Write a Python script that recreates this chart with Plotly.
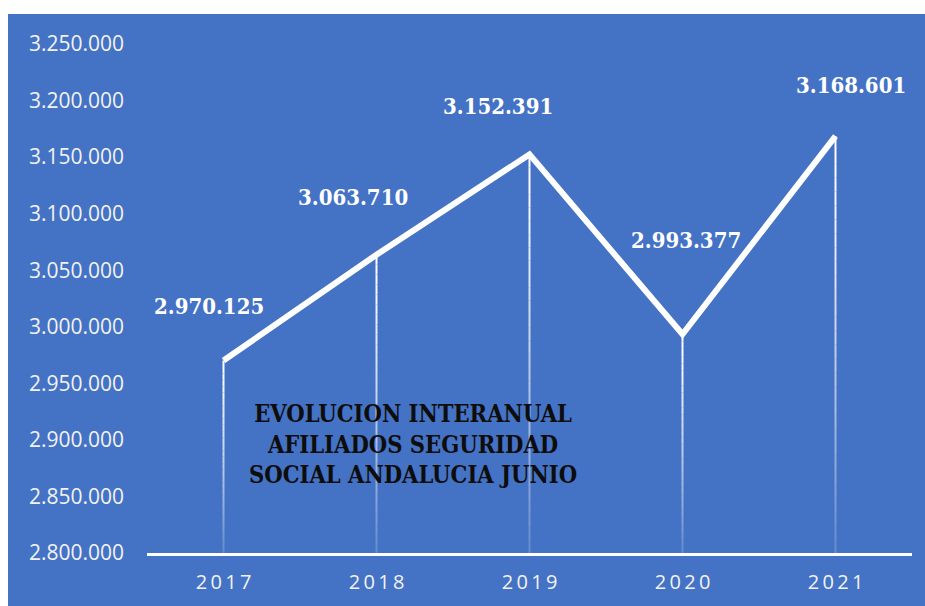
import plotly.graph_objects as go

# ---- data ----
years = ["2017", "2018", "2019", "2020", "2021"]
afiliados = [2970125, 3063710, 3152391, 2993377, 3168601]
y_tick_values = [2800000, 2850000, 2900000, 2950000, 3000000,
                 3050000, 3100000, 3150000, 3200000, 3250000]
title_lines = ["EVOLUCION INTERANUAL", "AFILIADOS SEGURIDAD", "SOCIAL ANDALUCIA JUNIO"]

# ---- style ----
BLUE = "#4472C4"
label_shift = [(-15, 55), (-24, 58), (-32, 48), (3, 94), (15, 51)]  # pixel offsets of value labels
y_min, y_max = 2800000, 3250000

W, H = 925, 606
ML, MR, MT, MB = 147, 13, 44, 53
pw, ph = W - ML - MR, H - MT - MB


def fmt(v):
    return f"{v:,}".replace(",", ".")


def spaced(s):
    return "\u2009".join(s)


fig = go.Figure()

fig.add_trace(go.Scatter(
    x=list(range(len(years))), y=afiliados, mode="lines",
    line=dict(color="white", width=6),
    hoverinfo="skip", showlegend=False,
))

shapes = [dict(
    type="rect", xref="paper", yref="paper",
    x0=(8 - ML) / pw, x1=(W + 20 - ML) / pw,
    y0=-(MB + 20) / ph, y1=(MT + ph - 14) / ph,
    fillcolor=BLUE, line=dict(width=0), layer="below",
)]

# fading drop lines
N = 30
for i, v in enumerate(afiliados):
    for k in range(N):
        y_top = v - (v - y_min) * k / N
        y_bot = v - (v - y_min) * (k + 1) / N
        op = 1 - 0.85 * (k / N) ** 1.3
        shapes.append(dict(
            type="line", xref="x", yref="y", x0=i, x1=i, y0=y_top, y1=y_bot,
            line=dict(color="white", width=2), opacity=op, layer="below",
        ))

annotations = []
for i, v in enumerate(afiliados):
    dx, dy = label_shift[i]
    annotations.append(dict(
        x=i, y=v, xref="x", yref="y", text=fmt(v), showarrow=False,
        xshift=dx, yshift=dy, xanchor="center", yanchor="middle",
        font=dict(family="DejaVu Serif Condensed, Liberation Serif", size=22,
                  color="white", weight="bold"),
    ))

annotations.append(dict(
    x=(413 - ML) / pw, y=(H - MB - 444) / ph, xref="paper", yref="paper",
    xanchor="center", yanchor="middle",
    text="<br>".join(title_lines), showarrow=False, align="center",
    font=dict(family="DejaVu Serif Condensed, Liberation Serif", size=23.5,
              color="#0d0d0d", weight="bold"),
))

fig.update_layout(
    width=W, height=H,
    margin=dict(l=ML, r=MR, t=MT, b=MB, pad=0, autoexpand=False),
    paper_bgcolor="white", plot_bgcolor=BLUE,
    separators=",.",
    shapes=shapes, annotations=annotations,
    showlegend=False,
    xaxis=dict(
        range=[-0.5, 4.5],
        tickvals=list(range(len(years))), ticktext=[spaced(y) for y in years],
        showgrid=False, zeroline=False, automargin=False,
        showline=True, linecolor="white", linewidth=3,
        ticks="", ticklabelstandoff=9,
        tickfont=dict(family="Open Sans", size=20, color="#f2f2f2"),
        fixedrange=True,
    ),
    yaxis=dict(
        range=[y_min, y_max], automargin=False,
        tickvals=y_tick_values, tickformat=",d",
        showgrid=False, zeroline=False, showline=False,
        ticks="", ticklabelstandoff=22,
        tickfont=dict(family="Open Sans", size=21, color="#f2f2f2"),
        fixedrange=True,
    ),
)

fig.write_html("out.html", config={"displayModeBar": False},
               post_script="document.body.style.margin='0';")
